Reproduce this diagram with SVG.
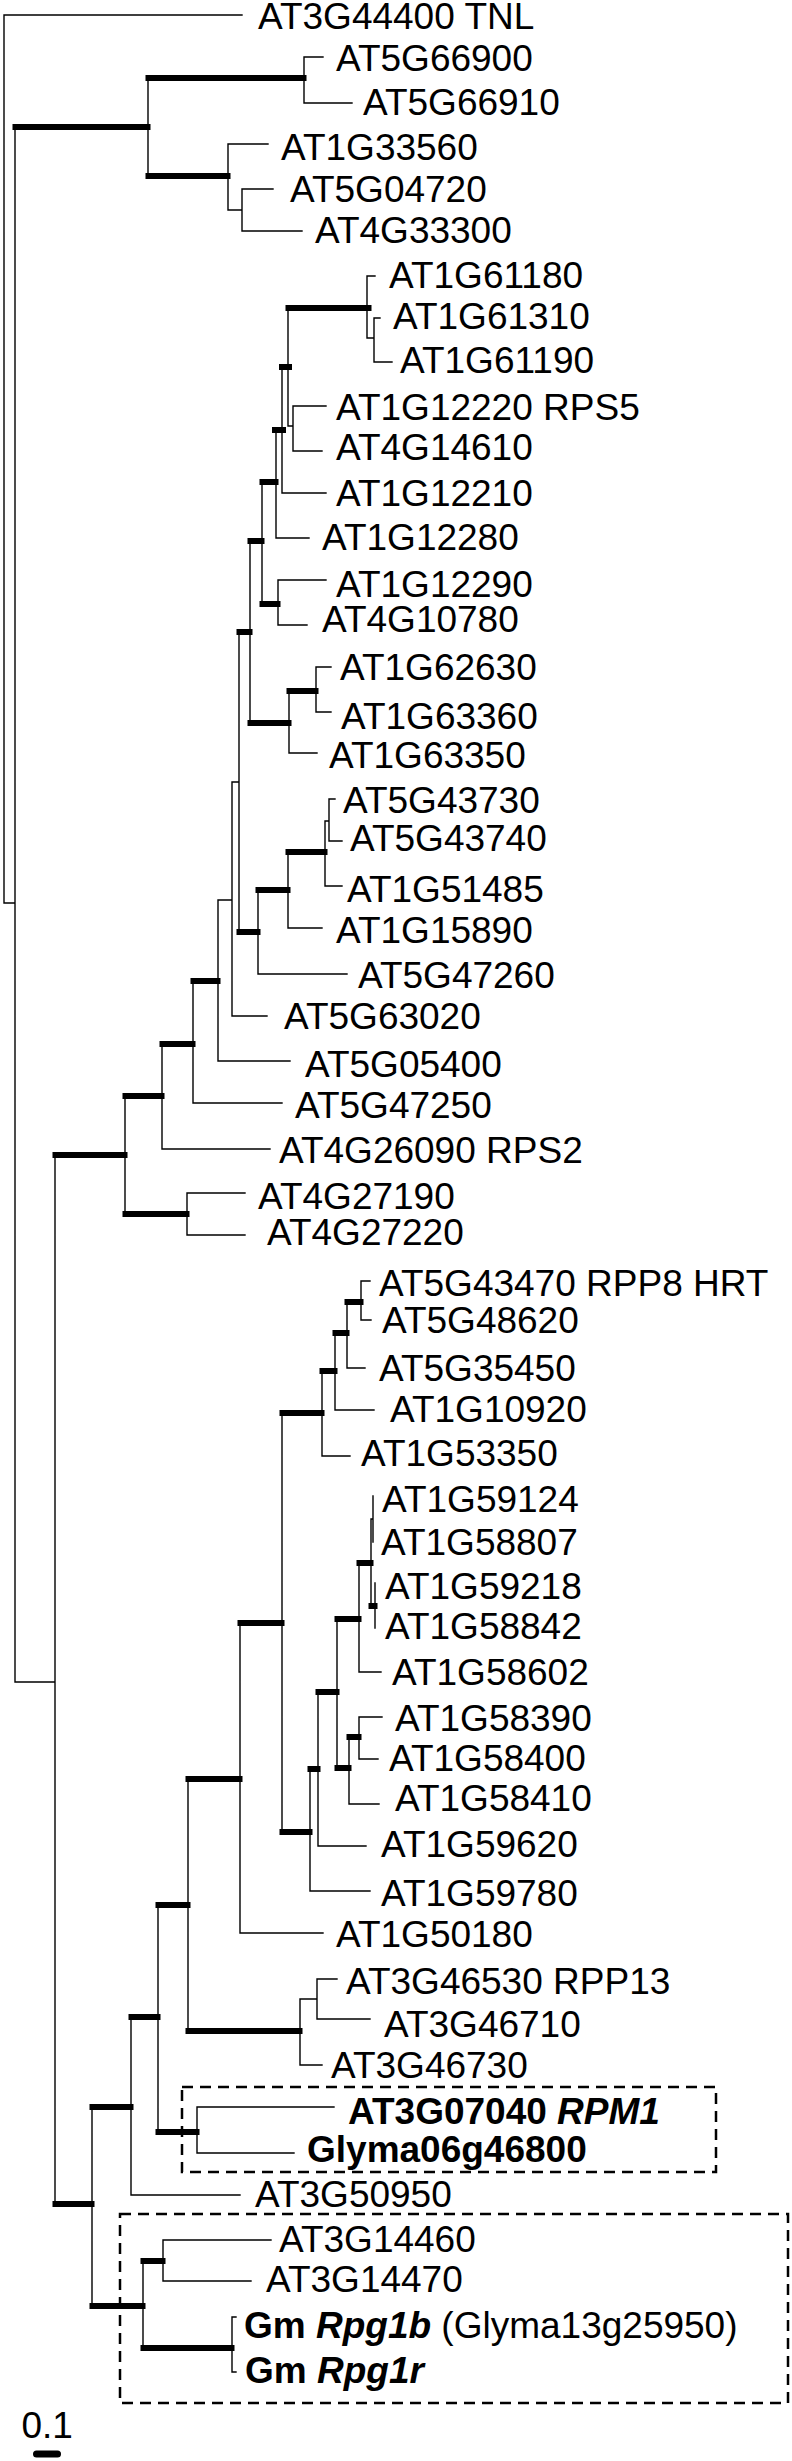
<svg xmlns="http://www.w3.org/2000/svg" width="792" height="2461" viewBox="0 0 792 2461">
<style>
.t{font-family:"Liberation Sans",Arial,sans-serif;font-size:37px;fill:#000}
.b{font-weight:bold}
.i{font-style:italic}
.br{stroke:#000;stroke-width:1.4;fill:none;stroke-linecap:square}
.tb{fill:#000}
.box{fill:none;stroke:#000;stroke-width:2.5;stroke-dasharray:11 7}
</style>
<rect width="792" height="2461" fill="#fff"/>
<g id="connectors">
<path class="br" d="M4 15V903M4 15H242M4 903H15M15 127V1682M15 1682H55
M148 78V176M304 57V103M304 57H323M304 103H352
M228 144V210M228 144H268M228 210H242
M242 189V231M242 189H273M242 231H302
M55 1155V2204M125 1096V1214
M187 1193V1235M187 1193H245M187 1235H245
M162 1044V1149M162 1149H270
M193 981V1103M193 1103H282
M218 900V1061M218 900H232M218 1061H290
M232 782V1016M232 782H239M232 1016H267
M239 632V932
M258 890V974M258 974H347
M288 852V928M288 928H322
M325 821V886M325 821H329M325 886H342
M329 799V841M329 799H335M329 841H342
M250 541V723
M289 691V753M289 753H317
M316 667V712M316 667H331M316 712H331
M262 482V604
M278 580V625M278 580H326M278 625H307
M276 430V538M276 538H309
M282 367V493M282 493H326
M288 308V426M288 426H293
M293 406V451M293 406H326M293 451H322
M367 276V338M367 276H375M367 338H374
M374 318V362M374 318H380M374 362H392
M92 2107V2306
M131 2017V2195M131 2195H240
M158 1905V2132
M197 2107V2153M197 2107H334M197 2153H294
M188 1779V2031
M300 1999V2065M300 1999H317M300 2065H322
M317 1979V2019M317 1979H337M317 2019H370
M240 1623V1933M240 1933H323
M282 1413V1832
M322 1371V1456M322 1456H350
M335 1333V1410M335 1410H374
M347 1302V1368M347 1368H365
M361 1281V1320M361 1281H370M361 1320H371
M310 1769V1891M310 1891H370
M318 1692V1846M318 1846H366
M337 1619V1768
M349 1737V1804M349 1804H379
M359 1717V1759M359 1717H382M359 1759H378
M359 1563V1672M359 1672H381
M371 1519V1606M371 1519H373
M373 1496V1542
M375 1583V1628
M143 2261V2348
M163 2240V2281M163 2240H271M163 2281H251
M232 2317V2372M232 2317H236M232 2372H236"/>
<g class="tb">
<rect x="12.5" y="124" width="138" height="6"/>
<rect x="145.5" y="75" width="161" height="6"/>
<rect x="145.5" y="173" width="85" height="6"/>
<rect x="52.5" y="1152" width="75" height="6"/>
<rect x="52.5" y="2201" width="42" height="6"/>
<rect x="122.5" y="1093" width="42" height="6"/>
<rect x="122.5" y="1211" width="67" height="6"/>
<rect x="159.5" y="1041" width="36" height="6"/>
<rect x="190.5" y="978" width="30" height="6"/>
<rect x="236.5" y="629" width="16" height="6"/>
<rect x="236.5" y="929" width="24" height="6"/>
<rect x="255.5" y="887" width="35" height="6"/>
<rect x="285.5" y="849" width="42" height="6"/>
<rect x="247.5" y="538" width="17" height="6"/>
<rect x="247.5" y="720" width="44" height="6"/>
<rect x="286.5" y="688" width="32" height="6"/>
<rect x="259.5" y="479" width="19" height="6"/>
<rect x="259.5" y="601" width="21" height="6"/>
<rect x="272" y="427" width="14" height="6"/>
<rect x="279" y="364" width="13" height="6"/>
<rect x="285.5" y="305" width="86" height="6"/>
<rect x="89.5" y="2104" width="44" height="6"/>
<rect x="89.5" y="2303" width="56" height="6"/>
<rect x="128.5" y="2014" width="32" height="6"/>
<rect x="155.5" y="1902" width="35" height="6"/>
<rect x="155.5" y="2129" width="44" height="6"/>
<rect x="185.5" y="1776" width="57" height="6"/>
<rect x="185.5" y="2028" width="117" height="6"/>
<rect x="237.5" y="1620" width="47" height="6"/>
<rect x="279.5" y="1410" width="45" height="6"/>
<rect x="279.5" y="1829" width="33" height="6"/>
<rect x="319.5" y="1368" width="18" height="6"/>
<rect x="332.5" y="1330" width="17" height="6"/>
<rect x="344.5" y="1299" width="19" height="6"/>
<rect x="307.5" y="1766" width="13" height="6"/>
<rect x="315.5" y="1689" width="24" height="6"/>
<rect x="334.5" y="1616" width="27" height="6"/>
<rect x="334.5" y="1765" width="17" height="6"/>
<rect x="346.5" y="1734" width="15" height="6"/>
<rect x="356.5" y="1560" width="17" height="6"/>
<rect x="368.5" y="1603" width="9" height="6"/>
<rect x="140.5" y="2258" width="25" height="6"/>
<rect x="140.5" y="2345" width="94" height="6"/>
</g>
</g>
<g id="AT3G44400"><text class="t" x="258" y="29">AT3G44400 TNL</text></g>
<g id="AT5G66900"><text class="t" x="336" y="71">AT5G66900</text></g>
<g id="AT5G66910"><text class="t" x="363" y="115">AT5G66910</text></g>
<g id="AT1G33560"><text class="t" x="281" y="160">AT1G33560</text></g>
<g id="AT5G04720"><text class="t" x="290" y="202">AT5G04720</text></g>
<g id="AT4G33300"><text class="t" x="315" y="243">AT4G33300</text></g>
<g id="AT1G61180"><text class="t" x="389" y="288">AT1G61180</text></g>
<g id="AT1G61310"><text class="t" x="393" y="329">AT1G61310</text></g>
<g id="AT1G61190"><text class="t" x="400" y="373">AT1G61190</text></g>
<g id="AT1G12220"><text class="t" x="336" y="420">AT1G12220 RPS5</text></g>
<g id="AT4G14610"><text class="t" x="336" y="460">AT4G14610</text></g>
<g id="AT1G12210"><text class="t" x="336" y="506">AT1G12210</text></g>
<g id="AT1G12280"><text class="t" x="322" y="550">AT1G12280</text></g>
<g id="AT1G12290"><text class="t" x="336" y="597">AT1G12290</text></g>
<g id="AT4G10780"><text class="t" x="322" y="632">AT4G10780</text></g>
<g id="AT1G62630"><text class="t" x="340" y="680">AT1G62630</text></g>
<g id="AT1G63360"><text class="t" x="341" y="729">AT1G63360</text></g>
<g id="AT1G63350"><text class="t" x="329" y="768">AT1G63350</text></g>
<g id="AT5G43730"><text class="t" x="343" y="813">AT5G43730</text></g>
<g id="AT5G43740"><text class="t" x="350" y="851">AT5G43740</text></g>
<g id="AT1G51485"><text class="t" x="347" y="902">AT1G51485</text></g>
<g id="AT1G15890"><text class="t" x="336" y="943">AT1G15890</text></g>
<g id="AT5G47260"><text class="t" x="358" y="988">AT5G47260</text></g>
<g id="AT5G63020"><text class="t" x="284" y="1029">AT5G63020</text></g>
<g id="AT5G05400"><text class="t" x="305" y="1077">AT5G05400</text></g>
<g id="AT5G47250"><text class="t" x="295" y="1118">AT5G47250</text></g>
<g id="AT4G26090"><text class="t" x="279" y="1163">AT4G26090 RPS2</text></g>
<g id="AT4G27190"><text class="t" x="258" y="1209">AT4G27190</text></g>
<g id="AT4G27220"><text class="t" x="267" y="1245">AT4G27220</text></g>
<g id="AT5G43470"><text class="t" x="379" y="1296">AT5G43470 RPP8 HRT</text></g>
<g id="AT5G48620"><text class="t" x="382" y="1333">AT5G48620</text></g>
<g id="AT5G35450"><text class="t" x="379" y="1381">AT5G35450</text></g>
<g id="AT1G10920"><text class="t" x="390" y="1422">AT1G10920</text></g>
<g id="AT1G53350"><text class="t" x="361" y="1466">AT1G53350</text></g>
<g id="AT1G59124"><text class="t" x="382" y="1512">AT1G59124</text></g>
<g id="AT1G58807"><text class="t" x="381" y="1555">AT1G58807</text></g>
<g id="AT1G59218"><text class="t" x="385" y="1599">AT1G59218</text></g>
<g id="AT1G58842"><text class="t" x="385" y="1639">AT1G58842</text></g>
<g id="AT1G58602"><text class="t" x="392" y="1685">AT1G58602</text></g>
<g id="AT1G58390"><text class="t" x="395" y="1731">AT1G58390</text></g>
<g id="AT1G58400"><text class="t" x="389" y="1771">AT1G58400</text></g>
<g id="AT1G58410"><text class="t" x="395" y="1811">AT1G58410</text></g>
<g id="AT1G59620"><text class="t" x="381" y="1857">AT1G59620</text></g>
<g id="AT1G59780"><text class="t" x="381" y="1906">AT1G59780</text></g>
<g id="AT1G50180"><text class="t" x="336" y="1947">AT1G50180</text></g>
<g id="AT3G46530"><text class="t" x="346" y="1994">AT3G46530 RPP13</text></g>
<g id="AT3G46710"><text class="t" x="384" y="2037">AT3G46710</text></g>
<g id="AT3G46730"><text class="t" x="331" y="2078">AT3G46730</text></g>
<g id="AT3G07040"><text class="t b" x="348" y="2124">AT3G07040 <tspan class="i">RPM1</tspan></text></g>
<g id="Glyma06g46800"><text class="t b" x="307" y="2162">Glyma06g46800</text></g>
<g id="AT3G50950"><text class="t" x="255" y="2207">AT3G50950</text></g>
<g id="AT3G14460"><text class="t" x="279" y="2252">AT3G14460</text></g>
<g id="AT3G14470"><text class="t" x="266" y="2292">AT3G14470</text></g>
<g id="Rpg1b"><text class="t" x="244" y="2338"><tspan class="b">Gm </tspan><tspan class="b i">Rpg1b</tspan> (Glyma13g25950)</text></g>
<g id="Rpg1r"><text class="t b" x="245" y="2383">Gm <tspan class="i">Rpg1r</tspan></text></g>
<g id="box-rpm1"><rect class="box" x="182" y="2087" width="534" height="85"/></g>
<g id="box-rpg1"><rect class="box" x="120" y="2214" width="668" height="189"/></g>
<g id="scalebar">
<text class="t" x="21.5" y="2438">0.1</text>
<line x1="36.5" y1="2454" x2="57.5" y2="2454" stroke="#000" stroke-width="7" stroke-linecap="round"/>
</g>
</svg>
